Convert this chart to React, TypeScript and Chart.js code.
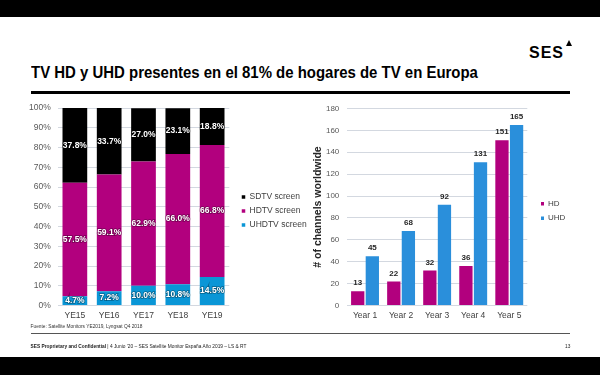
import React, { useEffect, useRef } from 'react';
import { Chart, registerables } from 'chart.js';

Chart.register(...registerables);

const FONT = '"Liberation Sans", Arial, sans-serif';
Chart.defaults.font.family = FONT;

// ---- Left chart data (share of TV homes) ----
const shareYears = ['YE15', 'YE16', 'YE17', 'YE18', 'YE19'];
const uhdtvShare = [4.7, 7.2, 10.0, 10.8, 14.5];
const hdtvShare = [57.5, 59.1, 62.9, 66.0, 66.8];
const sdtvShare = [37.8, 33.7, 27.0, 23.1, 18.8];
const shareSeriesNames = ['UHDTV screen', 'HDTV screen', 'SDTV screen'];

// ---- Right chart data (# of channels) ----
const channelYears = ['Year 1', 'Year 2', 'Year 3', 'Year 4', 'Year 5'];
const hdChannels = [13, 22, 32, 36, 151];
const uhdChannels = [45, 68, 92, 131, 165];
const channelSeriesNames = ['HD', 'UHD'];

const MAGENTA = '#B2007E';
const BLUE_L = '#0A96D6';
const BLUE_R = '#2A8FDB';
const GRID = '#D3D8E0';

function legendBox(width: number, dy: number) {
  return {
    id: 'legendBox',
    beforeLayout(chart: any) {
      const lg = chart.legend;
      if (lg && !lg.__fixedW) {
        const orig = lg.fit;
        lg.fit = function () {
          orig.call(this);
          this.width = width;
        };
        lg.__fixedW = true;
      }
    },
    afterLayout(chart: any) {
      const lg = chart.legend;
      if (lg) {
        lg.top += dy;
        lg.bottom += dy;
      }
    },
  };
}

const stackLabels = {
  id: 'stackLabels',
  afterDatasetsDraw(chart: any) {
    const ctx = chart.ctx;
    ctx.save();
    ctx.font = 'bold 8.5px ' + FONT;
    ctx.textAlign = 'center';
    ctx.textBaseline = 'middle';
    chart.data.datasets.forEach((ds: any, i: number) => {
      const meta = chart.getDatasetMeta(i);
      meta.data.forEach((bar: any, j: number) => {
        const v = ds.data[j];
        const p = bar.getProps(['x', 'y', 'base'], true);
        const cy = (p.y + p.base) / 2;
        const t = v.toFixed(1) + '%';
        ctx.lineWidth = 1.6;
        ctx.strokeStyle = 'rgba(0,0,0,0.35)';
        ctx.strokeText(t, p.x, cy);
        ctx.fillStyle = '#ffffff';
        ctx.fillText(t, p.x, cy);
      });
    });
    ctx.restore();
  },
};

const topLabels = {
  id: 'topLabels',
  afterDatasetsDraw(chart: any) {
    const ctx = chart.ctx;
    ctx.save();
    ctx.font = 'bold 8px ' + FONT;
    ctx.textAlign = 'center';
    ctx.textBaseline = 'middle';
    ctx.fillStyle = '#262626';
    chart.data.datasets.forEach((ds: any, i: number) => {
      const meta = chart.getDatasetMeta(i);
      meta.data.forEach((bar: any, j: number) => {
        const p = bar.getProps(['x', 'y'], true);
        ctx.fillText(String(ds.data[j]), p.x, p.y - 8);
      });
    });
    ctx.restore();
  },
};

function ShareChart() {
  const ref = useRef<HTMLCanvasElement>(null);
  useEffect(() => {
    const chart = new Chart(ref.current as HTMLCanvasElement, {
      type: 'bar',
      data: {
        labels: shareYears,
        datasets: [
          { label: shareSeriesNames[0], data: uhdtvShare, backgroundColor: BLUE_L, borderWidth: 0, yAxisID: 'y' },
          { label: shareSeriesNames[1], data: hdtvShare, backgroundColor: MAGENTA, borderWidth: 0, yAxisID: 'y' },
          { label: shareSeriesNames[2], data: sdtvShare, backgroundColor: '#000000', borderWidth: 0, yAxisID: 'y' },
        ],
      },
      options: {
        responsive: false,
        animation: false,
        events: [],
        layout: { padding: { top: 10, bottom: 0, left: 0, right: 13.75 } },
        plugins: {
          tooltip: { enabled: false },
          legend: {
            position: 'right',
            reverse: true,
            labels: { boxWidth: 3.5, boxHeight: 3.5, padding: 5.5, color: '#404040', font: { size: 8.5 } },
          },
        },
        scales: {
          x: {
            stacked: true,
            grid: { display: false, drawTicks: false },
            border: { display: false },
            ticks: { padding: 5, color: '#404040', font: { size: 8.5 }, maxRotation: 0 },
            afterFit: (s: any) => { s.height = 22.5; },
          },
          y: {
            stacked: true,
            min: 0,
            max: 100,
            grid: { color: GRID, drawTicks: false },
            border: { display: false },
            ticks: { stepSize: 10, padding: 7, color: '#595959', font: { size: 8.5 }, callback: (v: any) => v + '%' },
            afterFit: (s: any) => { s.width = 57.7; },
          },
          y2: {
            type: 'linear',
            position: 'right',
            display: true,
            grid: { display: false, drawTicks: false },
            border: { display: false },
            ticks: { display: false },
            afterFit: (s: any) => { s.width = 6.95; },
          },
        },
      } as any,
      plugins: [stackLabels, legendBox(90, -6)],
    });
    return () => chart.destroy();
  }, []);
  return <canvas ref={ref} width={340} height={232} style={{ position: 'absolute', left: 0, top: 96 }} />;
}

function ChannelChart() {
  const ref = useRef<HTMLCanvasElement>(null);
  useEffect(() => {
    const chart = new Chart(ref.current as HTMLCanvasElement, {
      type: 'bar',
      data: {
        labels: channelYears,
        datasets: [
          { label: channelSeriesNames[0], data: hdChannels, backgroundColor: MAGENTA, borderWidth: 0, categoryPercentage: 0.81, barPercentage: 0.91, yAxisID: 'y' },
          { label: channelSeriesNames[1], data: uhdChannels, backgroundColor: BLUE_R, borderWidth: 0, categoryPercentage: 0.81, barPercentage: 0.91, yAxisID: 'y' },
        ],
      },
      options: {
        responsive: false,
        animation: false,
        events: [],
        layout: { padding: { top: 10, bottom: 0, left: 0, right: 20.3 } },
        plugins: {
          tooltip: { enabled: false },
          legend: {
            position: 'right',
            labels: { boxWidth: 3, boxHeight: 3.5, padding: 6.3, color: '#404040', font: { size: 8 } },
          },
        },
        scales: {
          x: {
            grid: { display: false, drawTicks: false },
            border: { display: false },
            ticks: { padding: 5, color: '#404040', font: { size: 8.5 }, maxRotation: 0 },
            afterFit: (s: any) => { s.height = 22.5; },
          },
          y: {
            min: 0,
            max: 180,
            grid: { color: GRID, drawTicks: false },
            border: { display: false },
            ticks: { stepSize: 20, padding: 7.7, color: '#595959', font: { size: 8 } },
            title: {
              display: true,
              text: '# of channels worldwide',
              color: '#262626',
              font: { size: 10.5, weight: 'bold' },
              padding: { top: 11.7, bottom: 0 },
            },
            afterFit: (s: any) => { s.width = 47; },
          },
          y2: {
            type: 'linear',
            position: 'right',
            display: true,
            grid: { display: false, drawTicks: false },
            border: { display: false },
            ticks: { display: false },
            afterFit: (s: any) => { s.width = 7.4; },
          },
        },
      } as any,
      plugins: [topLabels, legendBox(45, -6)],
    });
    return () => chart.destroy();
  }, []);
  return <canvas ref={ref} width={300} height={232} style={{ position: 'absolute', left: 300, top: 96 }} />;
}

export default function App() {
  return (
    <div
      style={{
        position: 'absolute',
        left: 0,
        top: 0,
        width: 600,
        height: 375,
        background: '#ffffff',
        overflow: 'hidden',
        fontFamily: FONT,
        color: '#000',
      }}
    >
      <div style={{ position: 'absolute', left: 0, top: 0, width: 600, height: 17, background: '#000' }} />
      <div style={{ position: 'absolute', left: 0, top: 357, width: 600, height: 18, background: '#000' }} />

      {/* SES logo */}
      <div
        style={{
          position: 'absolute',
          left: 529,
          top: 45,
          fontSize: 16,
          fontWeight: 'bold',
          lineHeight: 1,
          letterSpacing: 1,
          whiteSpace: 'nowrap',
        }}
      >
        SES
      </div>
      <div
        style={{
          position: 'absolute',
          left: 566,
          top: 40,
          width: 0,
          height: 0,
          borderLeft: '3.5px solid transparent',
          borderRight: '3.5px solid transparent',
          borderBottom: '6.5px solid #000',
        }}
      />

      {/* Title */}
      <div
        style={{
          position: 'absolute',
          left: 30.6,
          top: 64.4,
          fontSize: 16.5,
          fontWeight: 'bold',
          lineHeight: 1,
          whiteSpace: 'nowrap',
          transform: 'scaleX(0.906)',
          transformOrigin: '0 0',
        }}
      >
        TV HD y UHD presentes en el 81% de hogares de TV en Europa
      </div>
      <div style={{ position: 'absolute', left: 30.6, top: 91, width: 539.4, height: 3, background: '#000' }} />

      <ShareChart />
      <ChannelChart />

      {/* Source + footer */}
      <div style={{ position: 'absolute', left: 30.6, top: 324.6, fontSize: 4.8, lineHeight: 1, color: '#333', whiteSpace: 'nowrap' }}>
        Fuente: Satellite Monitors YE2019, Lyngsat Q4 2018
      </div>
      <div style={{ position: 'absolute', left: 30.6, top: 332.5, width: 539.4, height: 1.3, background: '#555' }} />
      <div style={{ position: 'absolute', left: 30.6, top: 344.6, fontSize: 4.8, lineHeight: 1, color: '#222', whiteSpace: 'nowrap' }}>
        <b>SES Proprietary and Confidential</b>
        {'  |  4 Junio \u201920 \u2013 SES Satellite Monitor Espa\u00f1a A\u00f1o 2019 \u2013 LS & RT'}
      </div>
      <div style={{ position: 'absolute', left: 565, top: 344.6, fontSize: 4.8, lineHeight: 1, color: '#222' }}>13</div>
    </div>
  );
}
